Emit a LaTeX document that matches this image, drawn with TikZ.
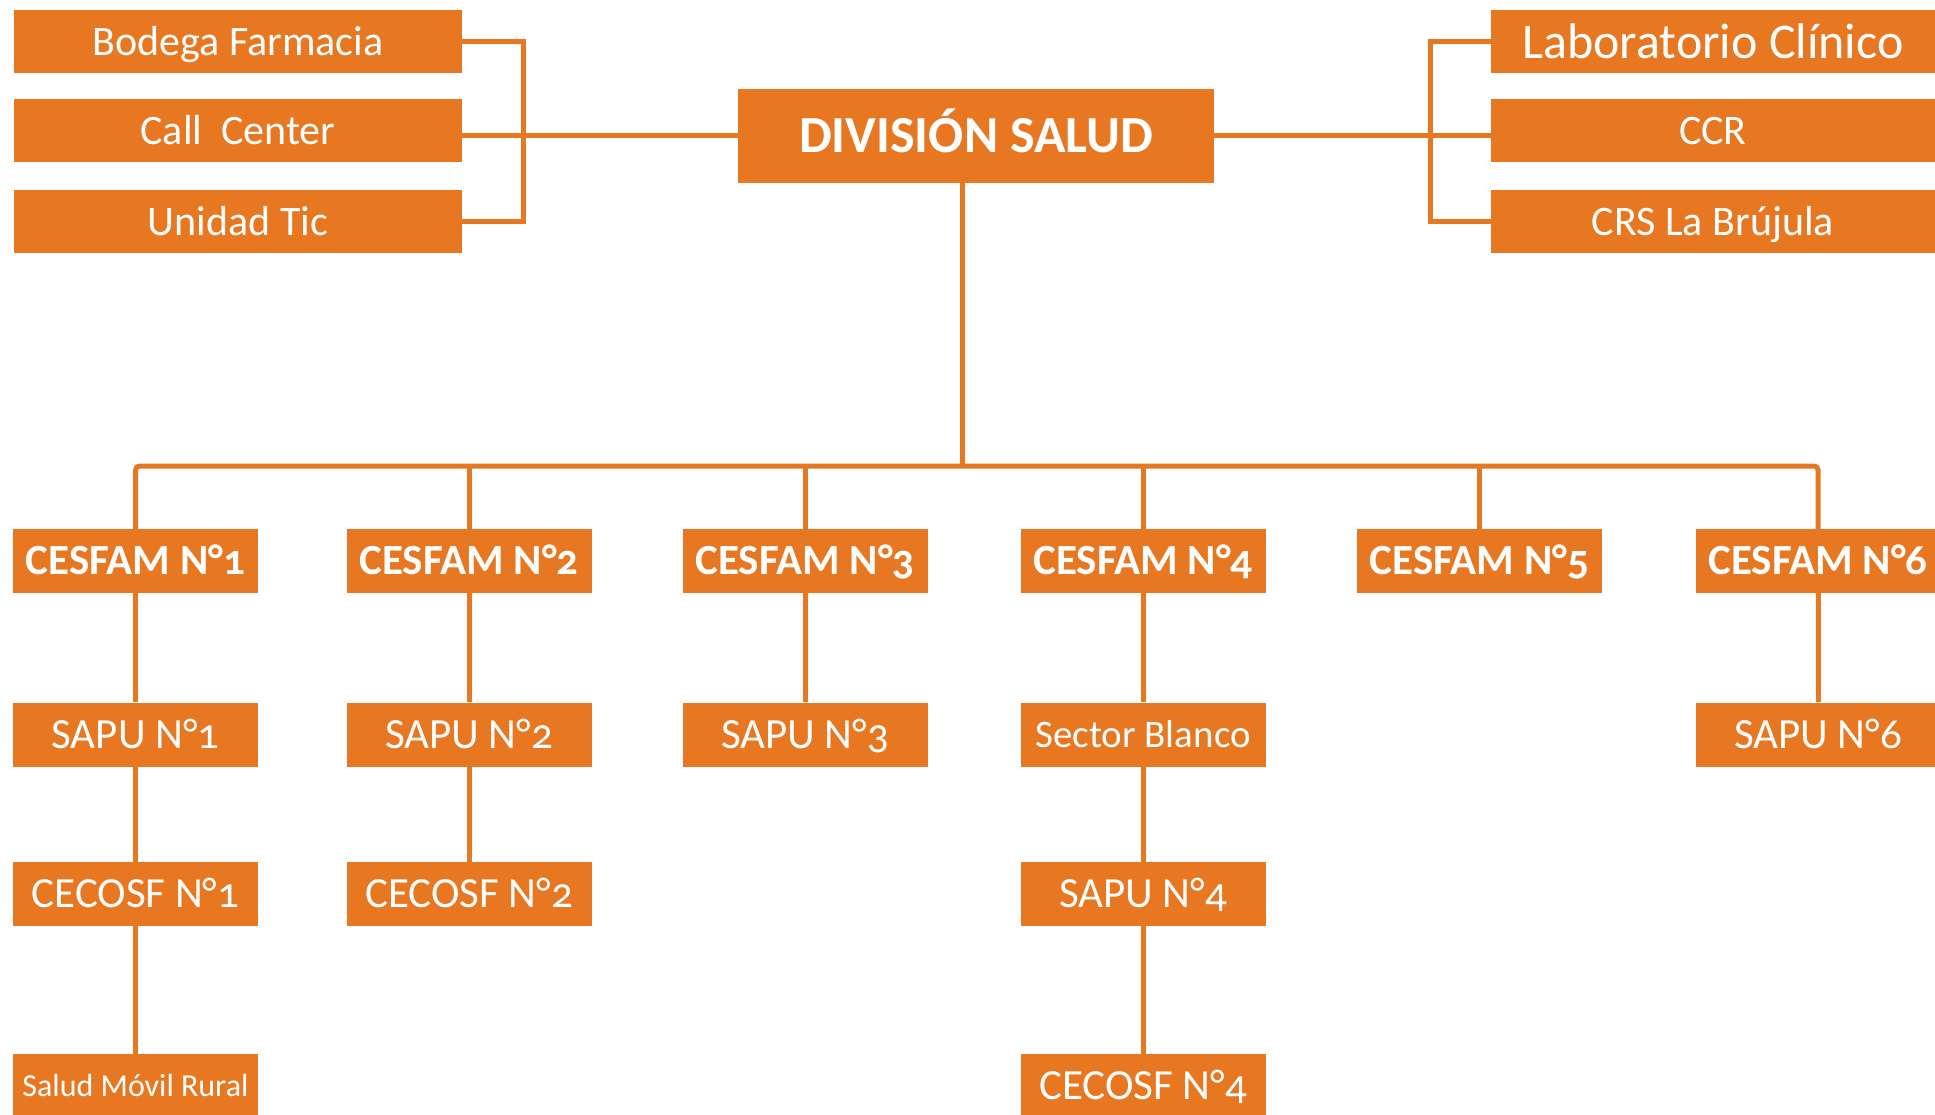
\documentclass[tikz,border=0pt]{standalone}
\usepackage{fontspec}
\setmainfont{Carlito}[Numbers=OldStyle]
\definecolor{orng}{RGB}{232,119,34}
\begin{document}
\begin{tikzpicture}[x=1pt,y=-1pt,
  box/.style={fill=orng,text=white,inner sep=0pt,minimum height=63pt,text height=31.5pt,text depth=4.2pt,font=\fontsize{42}{48}\selectfont},
  topl/.style={box,minimum width=448pt},
  topr/.style={box,minimum width=444pt},
  cesfam/.style={box,minimum width=245pt,minimum height=64pt,text height=32.25pt,text depth=4.3pt,font=\bfseries\fontsize{43}{48}\selectfont},
  sub/.style={box,minimum width=245pt,minimum height=64pt,text height=32.25pt,text depth=4.3pt,font=\fontsize{43}{48}\selectfont},
  conn/.style={draw=orng,line width=5pt}]
\useasboundingbox (0,0) rectangle (1935,1115);
\clip (0,0) rectangle (1935,1115);
% top left
\node[topl] (bod) at (238,42) {Bodega Farmacia};
\node[topl] (call) at (238,131) {Call\ \ Center};
\node[topl] (uni) at (238,221.5) {Unidad Tic};
% top right
\node[topr,text height=37.5pt,text depth=5pt,font=\fontsize{50}{56}\selectfont] (lab) at (1713,42) {Laboratorio Clínico};
\node[topr] (ccr) at (1713,131) {CCR};
\node[topr] (crs) at (1713,221.5) {CRS La Brújula};
% center
\node[box,minimum width=476pt,minimum height=94pt,text height=39pt,text depth=5.2pt,font=\bfseries\fontsize{52}{58}\selectfont] (div) at (976,136) {DIVISIÓN SALUD};
% CESFAM row
\node[cesfam] (c1) at (135.5,561) {CESFAM N°1};
\node[cesfam] (c2) at (469,561) {CESFAM N°2};
\node[cesfam] (c3) at (805,561) {CESFAM N°3};
\node[cesfam] (c4) at (1143,561) {CESFAM N°4};
\node[cesfam] (c5) at (1479.5,561) {CESFAM N°5};
\node[cesfam] (c6) at (1818,561) {CESFAM N°6};
% second row
\node[sub] (s1) at (135.5,734.5) {SAPU N°1};
\node[sub] (s2) at (469,734.5) {SAPU N°2};
\node[sub] (s3) at (805,734.5) {SAPU N°3};
\node[sub,text height=29.25pt,text depth=3.9pt,font=\fontsize{39}{44}\selectfont] (s4) at (1143,734.5) {Sector Blanco};
\node[sub] (s6) at (1818,734.5) {SAPU N°6};
% third row
\node[sub] (e1) at (135.5,894) {CECOSF N°1};
\node[sub] (e2) at (469,894) {CECOSF N°2};
\node[sub] (e4) at (1143,894) {SAPU N°4};
% fourth row
\node[sub,text height=24pt,text depth=3.2pt,font=\fontsize{32}{36}\selectfont] (m1) at (135.5,1086) {Salud Móvil Rural};
\node[sub] (m4) at (1143,1086) {CECOSF N°4};
% connectors
\coordinate (lbr) at (523,136);
\coordinate (rbr) at (1430,136);
\coordinate (dv) at (962,466);
\draw[conn] (bod.east) -| (lbr) |- (uni.east);
\draw[conn] (div.west) -- (div.west -| call.east);
\draw[conn] (lab.west) -| (rbr) |- (crs.west);
\draw[conn] (div.east) -- (div.east -| ccr.west);
\draw[conn] (dv |- div.south) -- (dv);
\draw[conn,rounded corners=4pt] (c1.north) |- (c6.north |- dv) -- (c6.north);
\foreach \n in {c2,c3,c4,c5} \draw[conn] (\n.north) -- (\n.north |- dv);
\draw[conn] (c1) -- (s1);
\draw[conn] (s1) -- (e1);
\draw[conn] (e1) -- (m1);
\draw[conn] (c2) -- (s2);
\draw[conn] (s2) -- (e2);
\draw[conn] (c3) -- (s3);
\draw[conn] (c4) -- (s4);
\draw[conn] (s4) -- (e4);
\draw[conn] (e4) -- (m4);
\draw[conn] (c6) -- (s6);
\end{tikzpicture}
\end{document}
